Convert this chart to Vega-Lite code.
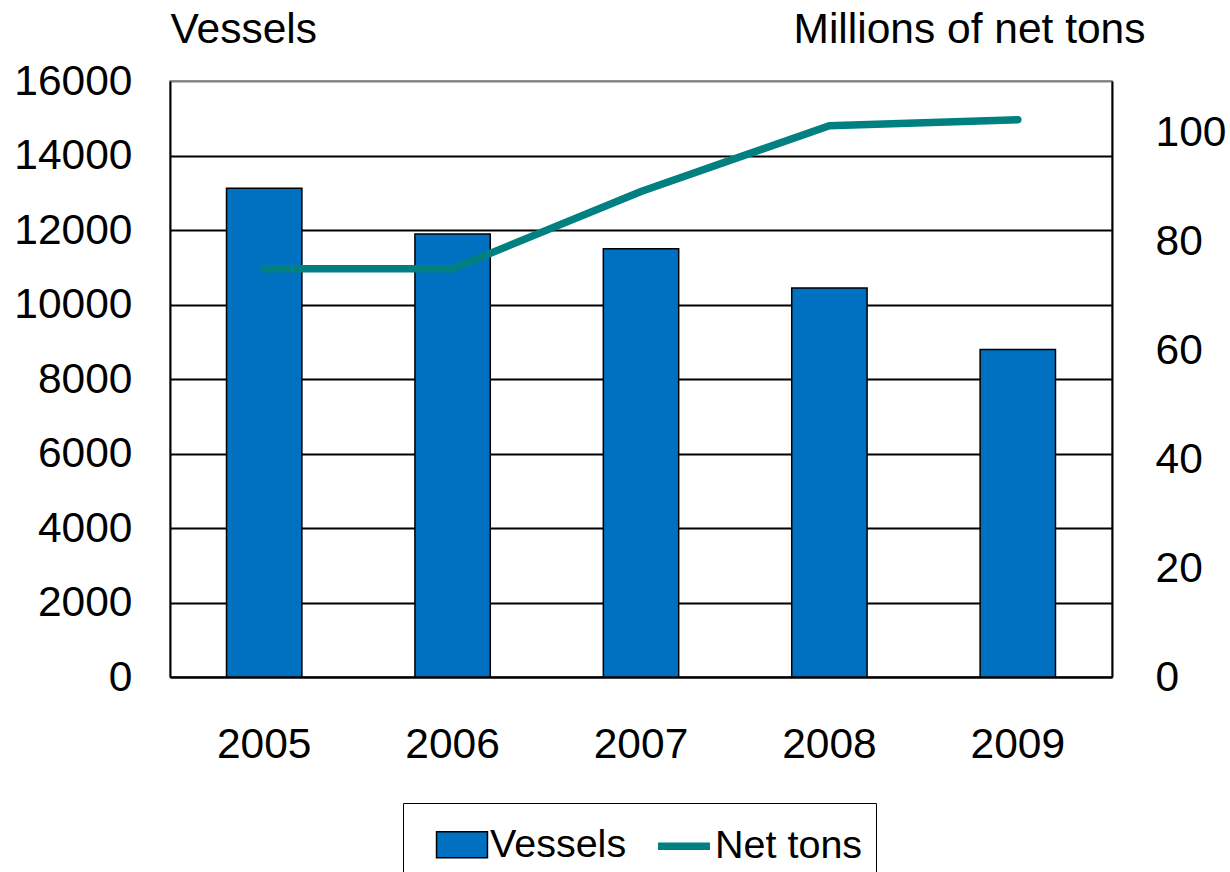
{
  "$schema": "https://vega.github.io/schema/vega-lite/v6.json",
  "width": 942,
  "height": 596,
  "autosize": {"type": "none"},
  "padding": {"left": 170, "top": 81, "right": 118, "bottom": 195},
  "background": "white",
  "config": {
    "font": "Liberation Sans",
    "view": {"stroke": "#808080", "strokeWidth": 1.5},
    "axis": {
      "labelFont": "Liberation Sans",
      "titleFont": "Liberation Sans",
      "labelFontSize": 42.5,
      "titleFontSize": 42.5,
      "labelColor": "black",
      "titleColor": "black",
      "titleFontWeight": "normal",
      "domainColor": "black",
      "domainWidth": 2,
      "ticks": false,
      "tickSize": 0
    },
    "legend": {
      "title": null,
      "orient": "none",
      "legendX": 233,
      "legendY": 722,
      "direction": "horizontal",
      "strokeColor": "black",
      "fillColor": "white",
      "padding": 13,
      "symbolOffset": 19,
      "labelOffset": 1,
      "columnPadding": 8,
      "labelFont": "Liberation Sans",
      "labelFontSize": 39.5,
      "labelColor": "black",
      "symbolSize": 2700,
      "symbolOpacity": 1
    }
  },
  "data": {
    "values": [
      {"year": "2005", "vessels": 13120, "tons": 75.0},
      {"year": "2006", "vessels": 11890, "tons": 75.0},
      {"year": "2007", "vessels": 11500, "tons": 89.2},
      {"year": "2008", "vessels": 10440, "tons": 101.3},
      {"year": "2009", "vessels": 8790, "tons": 102.4}
    ]
  },
  "encoding": {
    "x": {
      "field": "year",
      "type": "ordinal",
      "scale": {"paddingInner": 0.6, "paddingOuter": 0.3},
      "axis": {
        "title": null,
        "labelAngle": 0,
        "labelBaseline": "alphabetic",
        "labelPadding": 80,
        "grid": false
      }
    }
  },
  "layer": [
    {
      "mark": {"type": "bar", "color": "#0070C0", "stroke": "black", "strokeWidth": 1.5},
      "encoding": {
        "y": {
          "field": "vessels",
          "type": "quantitative",
          "scale": {"domain": [0, 16000], "nice": false},
          "axis": {
            "values": [0, 2000, 4000, 6000, 8000, 10000, 12000, 14000, 16000],
            "format": "d",
            "grid": true,
            "gridColor": {"condition": {"test": "datum.value === 16000", "value": "#808080"}, "value": "black"},
            "gridWidth": 2,
            "gridOpacity": 1,
            "labelPadding": 38,
            "labelBaseline": "middle",
            "title": "Vessels",
            "titleAngle": 0,
            "titleAlign": "left",
            "titleBaseline": "alphabetic",
            "titleX": 0,
            "titleY": -39
          }
        }
      }
    },
    {
      "mark": {"type": "line", "color": "#008080", "strokeWidth": 7.5, "strokeCap": "round", "strokeJoin": "miter"},
      "encoding": {
        "y": {
          "field": "tons",
          "type": "quantitative",
          "scale": {"domain": [0, 109.5], "nice": false},
          "axis": {
            "orient": "right",
            "values": [0, 20, 40, 60, 80, 100],
            "grid": false,
            "labelPadding": 43,
            "labelBaseline": "middle",
            "title": "Millions of net tons",
            "titleAngle": 0,
            "titleAlign": "right",
            "titleBaseline": "alphabetic",
            "titleX": 33,
            "titleY": -39
          }
        }
      }
    },
    {
      "mark": {"type": "point", "filled": true, "opacity": 0},
      "encoding": {
        "color": {
          "datum": "Vessels",
          "type": "nominal",
          "scale": {"domain": ["Vessels", "Net tons"], "range": ["#0070C0", "#008080"]},
          "legend": {"title": null, "orient": "none", "legendX": 233, "legendY": 722, "direction": "horizontal", "symbolOpacity": 1}
        },
        "stroke": {
          "datum": "Vessels",
          "type": "nominal",
          "scale": {"domain": ["Vessels", "Net tons"], "range": ["black", "#008080"]},
          "legend": {"title": null, "orient": "none", "legendX": 233, "legendY": 722, "direction": "horizontal", "symbolOpacity": 1}
        },
        "strokeWidth": {
          "datum": "Vessels",
          "type": "ordinal",
          "scale": {"domain": ["Vessels", "Net tons"], "range": [1.5, 7.5]},
          "legend": {"title": null, "orient": "none", "legendX": 233, "legendY": 722, "direction": "horizontal", "symbolOpacity": 1}
        },
        "shape": {
          "datum": "Vessels",
          "type": "nominal",
          "scale": {"domain": ["Vessels", "Net tons"], "range": ["M-0.98,-0.5H0.98V0.5H-0.98Z", "stroke"]},
          "legend": {"title": null, "orient": "none", "legendX": 233, "legendY": 722, "direction": "horizontal", "symbolOpacity": 1}
        }
      }
    }
  ],
  "resolve": {"scale": {"y": "independent"}}
}
